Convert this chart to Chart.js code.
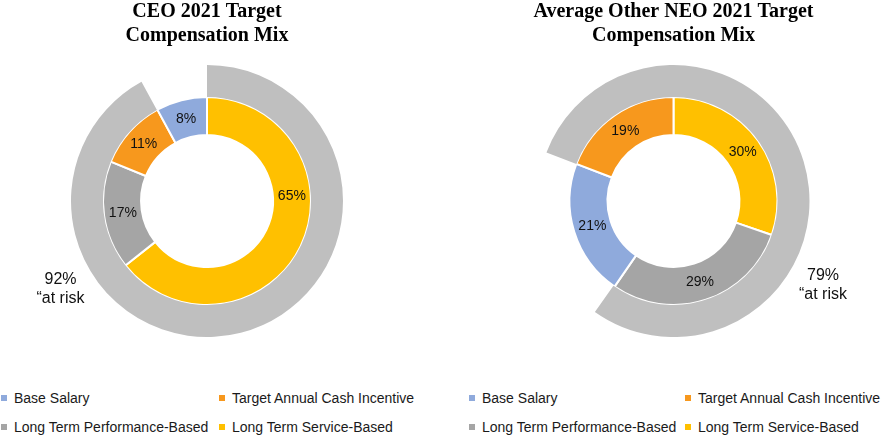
<!DOCTYPE html>
<html>
<head>
<meta charset="utf-8">
<title>Target Compensation Mix</title>
<script src="https://cdn.jsdelivr.net/npm/chart.js@4.4.0/dist/chart.umd.min.js"></script>
<style>
    body { margin: 0; width: 882px; height: 438px; background: #fff; position: relative; overflow: hidden;
           font-family: 'Liberation Sans', Arial, sans-serif; }
    .chart-box { position: absolute; top: 0; width: 441px; height: 337px; }
    .legend-item { position: absolute; height: 16px; font-size: 14px; line-height: 16px; color: #1a1a1a; white-space: nowrap; }
    .legend-item i { position: absolute; left: 0; top: 5px; width: 6px; height: 6px; }
    .legend-item span { position: absolute; left: 13px; top: 0; }
</style>
</head>
<body>
<div class="chart-box" style="left:0"><canvas id="canv-ceo"></canvas></div>
<div class="chart-box" style="left:441px"><canvas id="canv-neo"></canvas></div>
<div id="legend"></div>

<script>
var categories = ['Base Salary', 'Target Annual Cash Incentive', 'Long Term Performance-Based', 'Long Term Service-Based'];
var colors = ['#8FAADC', '#F7981D', '#A5A5A5', '#FFC000'];
var ceoMix = [8, 11, 17, 65];
var neoMix = [21, 19, 29, 30];
// slice order, clockwise from 12 o'clock (index into categories)
var ceoOrder = [3, 2, 1, 0];
var neoOrder = [3, 2, 0, 1];
var atRisk = [92, 79];
var titles = [
    ['CEO 2021 Target', 'Compensation Mix'],
    ['Average Other NEO 2021 Target', 'Compensation Mix']
];

// slice percentages drawn at mid radius of the inner ring
var sliceLabels = {
    id: 'sliceLabels',
    afterDatasetsDraw: function (chart, args, opts) {
        var ctx = chart.ctx;
        var arcs = chart.getDatasetMeta(1).data;
        var values = chart.data.datasets[1].data;
        ctx.save();
        ctx.font = '14px "Liberation Sans", Arial, sans-serif';
        ctx.fillStyle = '#111';
        ctx.textAlign = 'center';
        ctx.textBaseline = 'middle';
        for (var i = 0; i < arcs.length; i++) {
            var arc = arcs[i];
            var p = arc.getCenterPoint();
            if (opts.angles && opts.angles[i] !== undefined) {
                var r = (arc.innerRadius + arc.outerRadius) / 2;
                var a = opts.angles[i] * Math.PI / 180;
                p = { x: arc.x + r * Math.sin(a), y: arc.y - r * Math.cos(a) };
            }
            ctx.fillText(values[i] + '%', p.x, p.y);
        }
        ctx.restore();
    }
};

// the "at risk" note beside the outer ring
var riskNote = {
    id: 'riskNote',
    afterDraw: function (chart, args, opts) {
        var arc = chart.getDatasetMeta(0).data[0];
        var ctx = chart.ctx;
        ctx.save();
        ctx.font = '16px "Liberation Sans", Arial, sans-serif';
        ctx.fillStyle = '#111';
        ctx.textAlign = 'center';
        ctx.textBaseline = 'middle';
        ctx.fillText(opts.value + '%', arc.x + opts.dx, arc.y + opts.dy);
        ctx.fillText('\u201Cat risk', arc.x + opts.dx, arc.y + opts.dy + 18.5);
        ctx.restore();
    }
};

function buildMix(id, title, mix, order, risk, layout) {
    var total = 0;
    for (var i = 0; i < mix.length; i++) total += mix[i];

    // the at-risk ring starts where the base salary slice ends
    var upto = 0;
    for (var j = 0; j < order.length; j++) {
        upto += mix[order[j]];
        if (order[j] === 0) break;
    }
    var rotation = upto / total * 360;

    var labels = [];
    var values = [];
    var fills = [];
    for (var k = 0; k < order.length; k++) {
        labels.push(categories[order[k]]);
        values.push(mix[order[k]]);
        fills.push(colors[order[k]]);
    }

    return new Chart(document.getElementById(id), {
        type: 'doughnut',
        data: {
            labels: labels,
            datasets: [{
                label: 'At risk',
                data: [risk, 100 - risk],
                backgroundColor: ['#BFBFBF', 'rgba(0,0,0,0)'],
                borderWidth: 0,
                rotation: rotation,
                weight: 32
            }, {
                label: 'Mix',
                data: values,
                backgroundColor: fills,
                borderColor: '#ffffff',
                borderWidth: 2,
                weight: 38
            }]
        },
        options: {
            responsive: true,
            maintainAspectRatio: false,
            animation: false,
            events: [],
            cutout: '48.5%',
            hoverOffset: 0,
            layout: { padding: layout.padding },
            plugins: {
                legend: { display: false },
                tooltip: { enabled: false },
                title: {
                    display: true,
                    text: title,
                    color: '#000',
                    font: { family: '"Liberation Serif", "Times New Roman", serif', size: 20, weight: 'bold', lineHeight: 24 / 20 },
                    padding: { top: 0, bottom: 17 }
                },
                sliceLabels: { angles: layout.angles },
                riskNote: { value: risk, dx: layout.noteDx, dy: layout.noteDy }
            }
        },
        plugins: [sliceLabels, riskNote]
    });
}

buildMix('canv-ceo', titles[0], ceoMix, ceoOrder, atRisk[0],
    { padding: { left: 0, right: 27 }, angles: { 0: 87 }, noteDx: -146.5, noteDy: 79 });
buildMix('canv-neo', titles[1], neoMix, neoOrder, atRisk[1],
    { padding: { left: 24, right: 0 }, noteDx: 149.5, noteDy: 75 });

// legend, two columns per chart
var legendCols = [[1, 219], [469, 685]];
var legendRows = [390, 419];
var legend = document.getElementById('legend');
for (var c = 0; c < 2; c++) {
    for (var n = 0; n < categories.length; n++) {
        var item = document.createElement('div');
        item.className = 'legend-item';
        item.style.left = legendCols[c][n % 2] + 'px';
        item.style.top = legendRows[Math.floor(n / 2)] + 'px';
        item.innerHTML = '<i style="background:' + colors[n] + '"></i><span>' + categories[n] + '</span>';
        legend.appendChild(item);
    }
}
</script>
</body>
</html>
